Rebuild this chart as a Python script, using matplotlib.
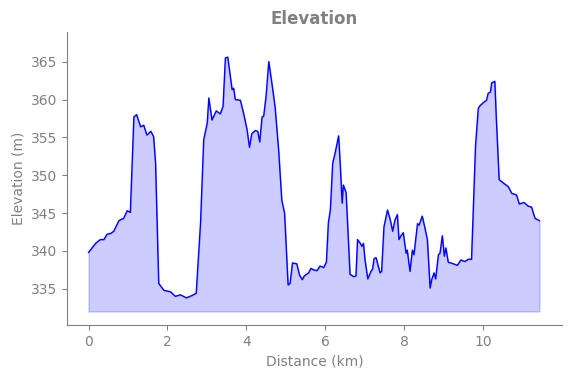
import matplotlib.pyplot as plt
import numpy as np

# distance (km) and elevation (m)
distance = [0.00, 0.09, 0.18, 0.30, 0.39, 0.47, 0.56, 0.64, 0.77, 0.89, 0.98, 1.06,
            1.15, 1.22, 1.32, 1.40, 1.48, 1.58, 1.65, 1.70, 1.78, 1.91, 2.08, 2.20,
            2.33, 2.48, 2.62, 2.73, 2.84, 2.92, 3.01, 3.05, 3.13, 3.24, 3.34, 3.41,
            3.47, 3.53, 3.64, 3.68, 3.72, 3.85, 3.93, 4.02, 4.08, 4.14, 4.23, 4.29,
            4.34, 4.40, 4.44, 4.50, 4.57, 4.65, 4.73, 4.82, 4.90, 4.97, 5.06, 5.11,
            5.17, 5.28, 5.35, 5.42, 5.47, 5.58, 5.64, 5.70, 5.79, 5.87, 5.96, 6.03,
            6.08, 6.13, 6.19, 6.25, 6.34, 6.38, 6.43, 6.46, 6.53, 6.56, 6.63, 6.72,
            6.78, 6.82, 6.89, 6.93, 6.97, 7.01, 7.08, 7.16, 7.20, 7.24, 7.29, 7.39,
            7.43, 7.49, 7.58, 7.65, 7.71, 7.77, 7.83, 7.87, 7.92, 7.98, 8.05, 8.08,
            8.15, 8.21, 8.25, 8.34, 8.38, 8.46, 8.53, 8.59, 8.66, 8.70, 8.76, 8.80,
            8.87, 8.91, 8.97, 9.02, 9.06, 9.12, 9.25, 9.35, 9.44, 9.54, 9.63, 9.71,
            9.75, 9.81, 9.88, 9.91, 10.01, 10.09, 10.13, 10.19, 10.22, 10.30, 10.34,
            10.41, 10.56, 10.64, 10.73, 10.85, 10.92, 11.04, 11.15, 11.23, 11.32, 11.43]
elevation = [339.8, 340.4, 341.0, 341.5, 341.5, 342.2, 342.3, 342.6, 344.0, 344.3, 345.3, 345.1,
             357.7, 358.0, 356.4, 356.6, 355.3, 355.8, 355.1, 351.6, 335.7, 334.8, 334.6, 334.0,
             334.2, 333.8, 334.1, 334.4, 343.7, 354.7, 356.9, 360.2, 357.3, 358.5, 358.1, 359.1,
             365.5, 365.6, 361.3, 361.5, 360.0, 359.9, 358.2, 356.0, 353.7, 355.5, 355.9, 355.8,
             354.4, 357.7, 357.8, 360.4, 365.0, 362.1, 359.0, 353.3, 346.7, 345.0, 335.5, 335.7,
             338.4, 338.3, 336.8, 336.2, 336.7, 337.1, 337.7, 337.5, 337.4, 338.0, 337.8, 338.5,
             343.7, 345.4, 351.6, 352.9, 355.2, 351.6, 346.3, 348.7, 347.7, 344.5, 336.9, 336.6,
             336.7, 341.5, 341.0, 340.6, 341.0, 338.8, 336.3, 337.3, 337.6, 339.0, 339.1, 337.1,
             337.3, 343.2, 345.4, 344.1, 342.6, 344.1, 344.8, 341.5, 342.0, 342.4, 339.7, 340.1,
             337.3, 340.1, 339.5, 343.6, 343.4, 344.6, 343.0, 341.5, 335.1, 336.2, 337.1, 336.3,
             339.5, 339.7, 342.0, 339.3, 340.4, 338.5, 338.3, 338.1, 338.8, 338.6, 338.9, 338.9,
             345.0, 353.8, 358.8, 359.1, 359.6, 359.9, 360.8, 361.0, 362.2, 362.4, 357.3,
             349.4, 348.8, 348.5, 347.6, 347.4, 346.2, 346.4, 345.9, 345.8, 344.3, 344.0]
baseline = 332

grey = '#808080'

fig, ax = plt.subplots(figsize=(5.71, 3.78), dpi=100)
plt.subplots_adjust(left=0.117, right=0.984, top=0.915, bottom=0.14)

ax.plot(distance, elevation, color='blue', linewidth=1)
ax.fill_between(distance, elevation, baseline, color='blue', alpha=0.2)

ax.set_xlim(-0.55, 12.0)
ax.set_ylim(330.2, 368.9)
ax.set_yticks(np.arange(335, 366, 5))
ax.set_xticks(np.arange(0, 11, 2))

ax.set_title('Elevation', color=grey, fontweight='bold', fontsize=12)
ax.set_xlabel('Distance (km)', color=grey)
ax.set_ylabel('Elevation (m)', color=grey)

for side in ['top', 'right']:
    ax.spines[side].set_visible(False)
for side in ['left', 'bottom']:
    ax.spines[side].set_color(grey)
ax.tick_params(colors=grey, labelcolor=grey)

plt.savefig('out.png')
